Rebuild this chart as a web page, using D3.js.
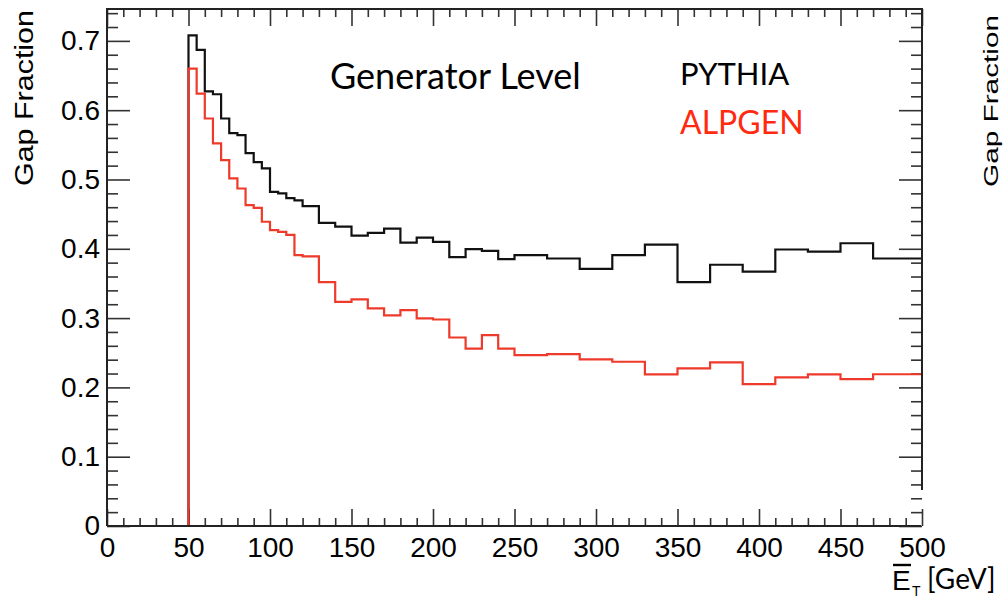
<!DOCTYPE html>
<html>
<head>
<meta charset="utf-8">
<script src="https://cdn.jsdelivr.net/npm/d3@7/dist/d3.min.js"></script>
<style>
  html, body { margin: 0; padding: 0; background: #fff; }
  svg { display: block; }
</style>
</head>
<body>
<svg id="chart" width="1003" height="598"></svg>
<script>
// ---- data ----
const binEdges = [0, 50, 55, 60, 65, 70, 75, 80, 85, 90, 95, 100, 105, 110, 115,
  120, 130, 140, 150, 160, 170, 180, 190, 200, 210, 220, 230, 240,
  250, 270, 290, 310, 330, 350, 370, 390, 410, 430, 450, 470, 500];
const pythia = [0, 0.708, 0.687, 0.627, 0.623, 0.588, 0.567, 0.564, 0.538, 0.525, 0.516,
  0.482, 0.480, 0.473, 0.470,
  0.4616, 0.4375, 0.432, 0.419, 0.423, 0.429, 0.409, 0.416, 0.410, 0.388, 0.3995, 0.397, 0.385,
  0.391, 0.386, 0.371, 0.391, 0.406, 0.352, 0.377, 0.367, 0.399, 0.396, 0.408, 0.386];
const alpgen = [0, 0.660, 0.624, 0.588, 0.552, 0.528, 0.5015, 0.487, 0.463, 0.459, 0.439,
  0.427, 0.4245, 0.420, 0.391,
  0.389, 0.352, 0.3235, 0.327, 0.314, 0.304, 0.3115, 0.2995, 0.298, 0.272, 0.256, 0.2755, 0.256,
  0.2466, 0.248, 0.2404, 0.237, 0.2188, 0.2274, 0.236, 0.2048, 0.2145, 0.2188, 0.212, 0.219];
const xMajorTicks = [0, 50, 100, 150, 200, 250, 300, 350, 400, 450, 500];
const yMajorTicks = [0, 0.1, 0.2, 0.3, 0.4, 0.5, 0.6, 0.7];
const yTickLabels = ["0", "0.1", "0.2", "0.3", "0.4", "0.5", "0.6", "0.7"];
const xDomain = [0, 500];
const yDomain = [0, 0.746];

// ---- layout ----
const L = 107, R = 922, T = 9, B = 526;
const svg = d3.select("#chart");
const x = d3.scaleLinear().domain(xDomain).range([L, R]);
const y = d3.scaleLinear().domain(yDomain).range([B, T]);

const xMinor = d3.range(0, 501, 10).filter(v => v % 50 !== 0);
const yMinor = d3.range(0, 75, 2).map(v => v / 100).filter(v => Math.round(v * 100) % 10 !== 0);

const tickColor = "#333";
const tickW = 1.6;
function styleAxis(g) {
  g.select(".domain").remove();
  g.selectAll(".tick line").attr("stroke", tickColor).attr("stroke-width", tickW);
}

// bottom axis: major ticks with labels
const gB = svg.append("g").attr("transform", `translate(0,${B})`)
  .call(d3.axisBottom(x).tickValues(xMajorTicks).tickSize(-17).tickPadding(11)
    .tickFormat(d3.format("d")));
styleAxis(gB);
gB.selectAll("text").attr("font-family", "'Liberation Sans', Arial, sans-serif")
  .attr("font-size", 28).attr("fill", "#000");
svg.append("g").attr("transform", `translate(0,${B})`)
  .call(d3.axisBottom(x).tickValues(xMinor).tickSize(-8).tickFormat(""))
  .call(styleAxis);

// top axis
svg.append("g").attr("transform", `translate(0,${T})`)
  .call(d3.axisTop(x).tickValues(xMajorTicks).tickSize(-17).tickFormat(""))
  .call(styleAxis);
svg.append("g").attr("transform", `translate(0,${T})`)
  .call(d3.axisTop(x).tickValues(xMinor).tickSize(-8).tickFormat(""))
  .call(styleAxis);

// left axis
const gL = svg.append("g").attr("transform", `translate(${L},0)`)
  .call(d3.axisLeft(y).tickValues(yMajorTicks).tickSize(-23).tickPadding(7)
    .tickFormat((d, i) => yTickLabels[i]));
styleAxis(gL);
gL.selectAll("text").attr("font-family", "'Liberation Sans', Arial, sans-serif")
  .attr("font-size", 28).attr("fill", "#000");
svg.append("g").attr("transform", `translate(${L},0)`)
  .call(d3.axisLeft(y).tickValues(yMinor).tickSize(-11).tickFormat(""))
  .call(styleAxis);

// right axis
svg.append("g").attr("transform", `translate(${R},0)`)
  .call(d3.axisRight(y).tickValues(yMajorTicks).tickSize(-23).tickFormat(""))
  .call(styleAxis);
svg.append("g").attr("transform", `translate(${R},0)`)
  .call(d3.axisRight(y).tickValues(yMinor).tickSize(-11).tickFormat(""))
  .call(styleAxis);

// histograms
function stepPoints(vals) {
  const pts = vals.map((v, i) => [binEdges[i], v]);
  pts.push([binEdges[binEdges.length - 1], vals[vals.length - 1]]);
  return pts;
}
const line = d3.line().x(d => x(d[0])).y(d => y(d[1])).curve(d3.curveStepAfter);
svg.append("path").datum(stepPoints(pythia)).attr("d", line)
  .attr("fill", "none").attr("stroke", "#111").attr("stroke-width", 2.2);
svg.append("path").datum(stepPoints(alpgen)).attr("d", line)
  .attr("fill", "none").attr("stroke", "#ee3a2a").attr("stroke-width", 2.2);

// frame (right side cut off near the bottom, as in the cropped figure)
svg.append("path")
  .attr("d", `M${L},${B}V${T}H${R}V490`)
  .attr("fill", "none").attr("stroke", "#222").attr("stroke-width", 2);
svg.append("line").attr("x1", L).attr("x2", R - 1).attr("y1", B).attr("y2", B)
  .attr("stroke", "#222").attr("stroke-width", 2);

// y axis titles
svg.append("text")
  .attr("transform", "translate(33,98) rotate(-90)")
  .attr("text-anchor", "middle")
  .attr("font-family", "'Liberation Sans', Arial, sans-serif")
  .attr("font-size", 25).attr("fill", "#000")
  .attr("textLength", 176).attr("lengthAdjust", "spacingAndGlyphs")
  .text("Gap Fraction");
svg.append("text")
  .attr("transform", "translate(998,101) rotate(-90)")
  .attr("text-anchor", "middle")
  .attr("font-family", "'Liberation Sans', Arial, sans-serif")
  .attr("font-size", 21).attr("fill", "#000")
  .attr("textLength", 172).attr("lengthAdjust", "spacingAndGlyphs")
  .text("Gap Fraction");

// x axis title
svg.append("text").attr("x", 892).attr("y", 590)
  .attr("font-family", "'Liberation Sans', Arial, sans-serif")
  .attr("font-size", 28).attr("fill", "#000").text("E");
svg.append("line").attr("x1", 893).attr("x2", 911).attr("y1", 565).attr("y2", 565)
  .attr("stroke", "#000").attr("stroke-width", 2.4);
svg.append("text").attr("x", 912).attr("y", 596)
  .attr("font-family", "'Liberation Sans', Arial, sans-serif")
  .attr("font-size", 14).attr("fill", "#000").text("T");
svg.append("text").attr("x", 927).attr("y", 589)
  .attr("font-family", "Lato, 'Open Sans', sans-serif")
  .attr("font-size", 28).attr("fill", "#000").text("[GeV]");

// annotations
svg.append("text").attr("x", 330).attr("y", 89)
  .attr("font-family", "Lato, 'Open Sans', sans-serif")
  .attr("font-size", 36).attr("fill", "#000").text("Generator Level");
svg.append("text").attr("x", 680).attr("y", 85)
  .attr("font-family", "Lato, 'Open Sans', sans-serif")
  .attr("font-size", 31).attr("fill", "#000").text("PYTHIA");
svg.append("text").attr("x", 680).attr("y", 134)
  .attr("font-family", "Lato, 'Open Sans', sans-serif")
  .attr("font-size", 32).attr("fill", "#ff2a10").text("ALPGEN");
</script>
</body>
</html>
